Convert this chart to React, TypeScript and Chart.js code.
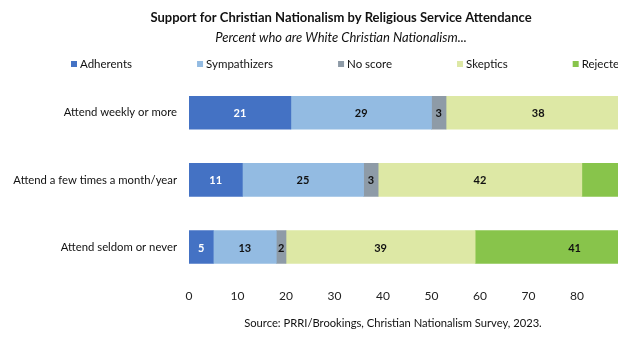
import React, { useEffect, useRef } from "react";
import { Chart, registerables } from "chart.js";

Chart.register(...registerables);

const categories = [
  "Attend weekly or more",
  "Attend a few times a month/year",
  "Attend seldom or never",
];
const seriesNames = ["Adherents", "Sympathizers", "No score", "Skeptics", "Rejecters"];
const adherents = [21, 11, 5];
const sympathizers = [29, 25, 13];
const noScore = [3, 3, 2];
const skeptics = [38, 42, 39];
const rejecters = [9, 19, 41];
const seriesColors = ["#4472C4", "#93BBE2", "#8E9BA7", "#DDE8A5", "#88C44B"];
const labelColors = ["#FFFFFF", "#111111", "#111111", "#111111", "#111111"];
const titleText = "Support for Christian Nationalism by Religious Service Attendance";
const subtitleText = "Percent who are White Christian Nationalism...";
const sourceText = "Source: PRRI/Brookings, Christian Nationalism Survey, 2023.";

const FONT = "Lato";

const barLabelPlugin = {
  id: "barLabels",
  afterDatasetsDraw(chart: any) {
    const { ctx } = chart;
    ctx.save();
    ctx.font = `bold 11px ${FONT}`;
    ctx.textAlign = "center";
    ctx.textBaseline = "middle";
    chart.data.datasets.forEach((ds: any, di: number) => {
      const meta = chart.getDatasetMeta(di);
      meta.data.forEach((bar: any, i: number) => {
        const v = ds.data[i];
        if (!v) return;
        const cx = (bar.x + bar.base) / 2;
        ctx.fillStyle = labelColors[di];
        ctx.fillText(String(v), cx, bar.y + 1);
      });
    });
    ctx.restore();
  },
};

const legendPlugin = {
  id: "customLegend",
  afterDraw(chart: any) {
    const { ctx } = chart;
    ctx.save();
    ctx.font = `11.5px ${FONT}`;
    ctx.textBaseline = "middle";
    ctx.textAlign = "left";
    let x = 71;
    const y = 64;
    chart.data.datasets.forEach((ds: any) => {
      ctx.fillStyle = ds.backgroundColor;
      ctx.fillRect(x, y - 3, 6, 6);
      ctx.fillStyle = "#111";
      ctx.fillText(ds.label, x + 9, y);
      x += 9 + ctx.measureText(ds.label).width + 65;
    });
    ctx.restore();
  },
};

const sourcePlugin = {
  id: "sourceNote",
  afterDraw(chart: any) {
    const { ctx } = chart;
    ctx.save();
    ctx.font = `11.2px ${FONT}`;
    ctx.textAlign = "center";
    ctx.textBaseline = "middle";
    ctx.fillStyle = "#111";
    ctx.fillText(sourceText, 393, 323);
    ctx.restore();
  },
};

export default function App() {
  const ref = useRef<HTMLCanvasElement | null>(null);
  useEffect(() => {
    if (!ref.current) return;
    const series = [adherents, sympathizers, noScore, skeptics, rejecters];
    const chart = new Chart(ref.current, {
      type: "bar",
      data: {
        labels: categories,
        datasets: series.map((d, i) => ({
          label: seriesNames[i],
          data: d,
          backgroundColor: seriesColors[i],
          borderWidth: 0,
          barThickness: 33,
        })),
      },
      options: {
        indexAxis: "y",
        responsive: false,
        animation: false,
        layout: { padding: { left: 8, right: 10, top: 0, bottom: 48 } },
        plugins: {
          legend: { display: false },
          tooltip: { enabled: false },
          title: {
            display: true,
            text: titleText,
            color: "#111",
            font: { family: FONT, size: 13, weight: "bold" },
            padding: { top: 10, bottom: 2 },
          },
          subtitle: {
            display: true,
            text: subtitleText,
            color: "#111",
            font: { family: FONT, size: 13, style: "italic" },
            padding: { top: 2, bottom: 34 },
          },
        },
        scales: {
          x: {
            stacked: true,
            min: 0,
            max: 100,
            grid: { display: false, drawTicks: false },
            border: { display: false },
            afterFit: (s: any) => {
              s.paddingRight = 0;
            },
            ticks: {
              stepSize: 10,
              padding: 8,
              color: "#222",
              font: { family: FONT, size: 12 },
            },
          },
          y: {
            stacked: true,
            grid: { display: false, drawTicks: false },
            border: { display: false },
            afterFit: (s: any) => {
              s.width = 181;
            },
            ticks: {
              padding: 12,
              color: "#111",
              font: { family: FONT, size: 11.3 },
            },
          },
        },
      },
      plugins: [barLabelPlugin, legendPlugin, sourcePlugin],
    });
    return () => chart.destroy();
  }, []);

  return (
    <div
      style={{
        position: "fixed",
        left: 0,
        top: 0,
        width: 618,
        height: 359,
        overflow: "hidden",
        background: "#fff",
      }}
    >
      <canvas ref={ref} width={684} height={359} style={{ display: "block" }} />
    </div>
  );
}
